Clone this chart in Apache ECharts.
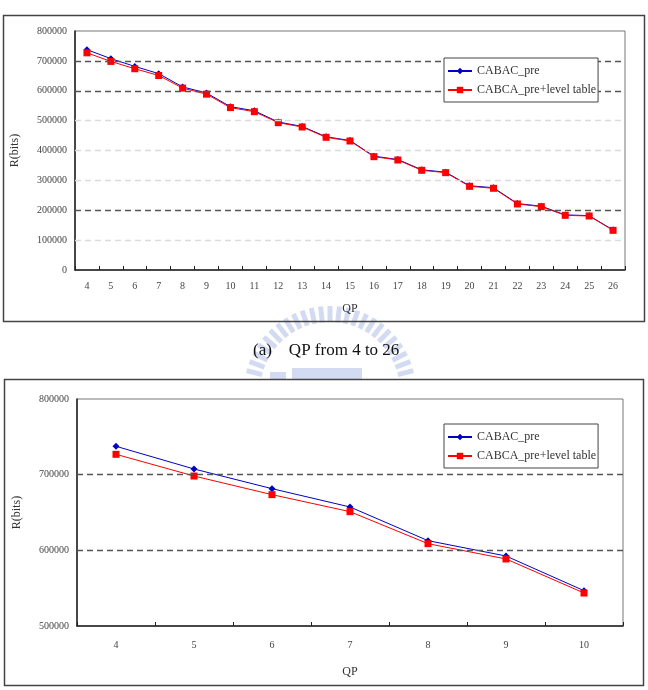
<!DOCTYPE html>
<html>
<head>
<meta charset="utf-8">
<script src="https://cdn.jsdelivr.net/npm/echarts@6/dist/echarts.min.js"></script>
<style>
html,body{margin:0;padding:0;background:#fff;}
#c{width:648px;height:690px;}
</style>
</head>
<body>
<div id="c"></div>
<script>
// ---- data ----
const qpAll = ['4','5','6','7','8','9','10','11','12','13','14','15','16','17','18','19','20','21','22','23','24','25','26'];
const cabacPre = [737500, 707500, 681500, 657300, 612800, 592500, 546700, 533000, 495500, 480500, 446000, 433500, 381000, 370000, 335500, 327500, 282000, 275500, 222500, 213500, 184500, 182000, 134000];
const cabcaLevel = [726900, 698200, 673600, 651100, 608800, 588600, 543600, 529900, 493100, 478700, 444200, 431800, 379300, 368200, 333700, 325800, 280100, 273500, 221000, 212000, 183000, 180800, 132800];
const qpZoom = ['4','5','6','7','8','9','10'];
const cabacPreZoom = [737500, 707500, 681500, 657300, 612800, 592500, 546700];
const cabcaLevelZoom = [726900, 698200, 673600, 651100, 608800, 588600, 543600];
const darkGrid1 = [200000, 600000, 700000];
const lightGrid1 = [100000, 300000, 400000, 500000];
const darkGrid2 = [600000, 700000];
const seriesNames = ['CABAC_pre', 'CABCA_pre+level table'];
const captionText = '(a)    QP from 4 to 26';

const FONT = '"Liberation Serif", "DejaVu Serif", serif';
const chart = echarts.init(document.getElementById('c'), null, {renderer: 'canvas'});

function gridLines(dark, light) {
  const d = [];
  dark.forEach(v => d.push({yAxis: v, lineStyle: {color: '#555', type: [6, 4], width: 1.3}}));
  light.forEach(v => d.push({yAxis: v, lineStyle: {color: '#dcdcdc', type: [6, 4], width: 1.3}}));
  return d;
}

function xAxisCfg(idx, data, labelMargin, nameGap) {
  return {
    type: 'category', gridIndex: idx, data: data, boundaryGap: true,
    name: 'QP', nameLocation: 'middle', nameGap: nameGap,
    nameTextStyle: {fontFamily: FONT, fontSize: 12, color: '#333'},
    axisLine: {lineStyle: {color: '#222', width: 1.5}},
    axisTick: {show: true, inside: true, length: 4, lineStyle: {color: '#222'}},
    axisLabel: {fontFamily: FONT, fontSize: 10, color: '#444', margin: labelMargin},
    splitLine: {show: false}
  };
}
function yAxisCfg(idx, min, max) {
  return {
    type: 'value', gridIndex: idx, min: min, max: max, interval: 100000,
    name: 'R(bits)', nameLocation: 'middle', nameGap: 54, nameRotate: 90,
    nameTextStyle: {fontFamily: FONT, fontSize: 12, color: '#333'},
    axisLine: {show: true, lineStyle: {color: '#222', width: 1.5}},
    axisTick: {show: false},
    axisLabel: {fontFamily: FONT, fontSize: 10, color: '#444', margin: 8, formatter: v => String(v)},
    splitLine: {show: false}
  };
}
function dataSeries(idx, name, data, color, symbol, z) {
  return {
    type: 'line', name: name, xAxisIndex: idx, yAxisIndex: idx, data: data,
    symbol: symbol, symbolSize: 7,
    lineStyle: {color: color, width: 1}, itemStyle: {color: color},
    z: z, animation: false
  };
}
function legendCfg(top) {
  return {
    data: seriesNames, orient: 'vertical', left: 444, top: top, z: 20,
    itemWidth: 24, itemHeight: 8, itemGap: 7,
    padding: [7, 2, 6, 3],
    backgroundColor: '#fff', borderColor: '#444', borderWidth: 1,
    textStyle: {fontFamily: FONT, fontSize: 12, color: '#333'},
    selectedMode: false
  };
}

// decorative watermark rays
const wm = [];
for (let i = 0; i <= 24; i++) {
  const a = Math.PI * (0.92 - i * 0.84 / 24);
  const cx = 330, cy = 392, r1 = 70, r2 = 86;
  wm.push({
    type: 'line', silent: true, z: 0,
    shape: {x1: cx + r1 * Math.cos(a), y1: cy - r1 * Math.sin(a), x2: cx + r2 * Math.cos(a), y2: cy - r2 * Math.sin(a)},
    style: {stroke: '#d3dbf2', lineWidth: 5}
  });
}

const option = {
  animation: false,
  backgroundColor: '#fff',
  graphic: [
    ...wm,
    {type: 'rect', silent: true, z: 0, shape: {x: 292, y: 368, width: 70, height: 11}, style: {fill: '#d3dbf2'}},
    {type: 'rect', silent: true, z: 0, shape: {x: 270, y: 372, width: 16, height: 7}, style: {fill: '#d3dbf2'}},
    {type: 'rect', silent: true, z: 1, shape: {x: 3.5, y: 15.5, width: 641, height: 306}, style: {fill: 'none', stroke: '#444', lineWidth: 1.5}},
    {type: 'rect', silent: true, z: 1, shape: {x: 4.5, y: 379.5, width: 639, height: 306}, style: {fill: 'none', stroke: '#444', lineWidth: 1.5}},
    {type: 'text', silent: true, z: 2, left: 253, top: 342, style: {text: captionText, fontFamily: FONT, fontSize: 17, fill: '#111'}}
  ],
  legend: [legendCfg(58), legendCfg(424)],
  grid: [
    {left: 75, top: 31, width: 550, height: 239, show: true, borderColor: '#777', borderWidth: 1, backgroundColor: 'transparent'},
    {left: 77, top: 399, width: 546, height: 227, show: true, borderColor: '#777', borderWidth: 1, backgroundColor: 'transparent'}
  ],
  xAxis: [xAxisCfg(0, qpAll, 11, 33), xAxisCfg(1, qpZoom, 14, 40)],
  yAxis: [yAxisCfg(0, 0, 800000), yAxisCfg(1, 500000, 800000)],
  series: [
    {type: 'line', xAxisIndex: 0, yAxisIndex: 0, data: [], z: 1, silent: true,
     markLine: {silent: true, symbol: 'none', label: {show: false}, animation: false, data: gridLines(darkGrid1, lightGrid1)}},
    {type: 'line', xAxisIndex: 1, yAxisIndex: 1, data: [], z: 1, silent: true,
     markLine: {silent: true, symbol: 'none', label: {show: false}, animation: false, data: gridLines(darkGrid2, [])}},
    dataSeries(0, seriesNames[0], cabacPre, '#0000c8', 'diamond', 3),
    dataSeries(0, seriesNames[1], cabcaLevel, '#ff0000', 'rect', 4),
    dataSeries(1, seriesNames[0], cabacPreZoom, '#0000c8', 'diamond', 3),
    dataSeries(1, seriesNames[1], cabcaLevelZoom, '#ff0000', 'rect', 4)
  ]
};
chart.setOption(option);
</script>
</body>
</html>
